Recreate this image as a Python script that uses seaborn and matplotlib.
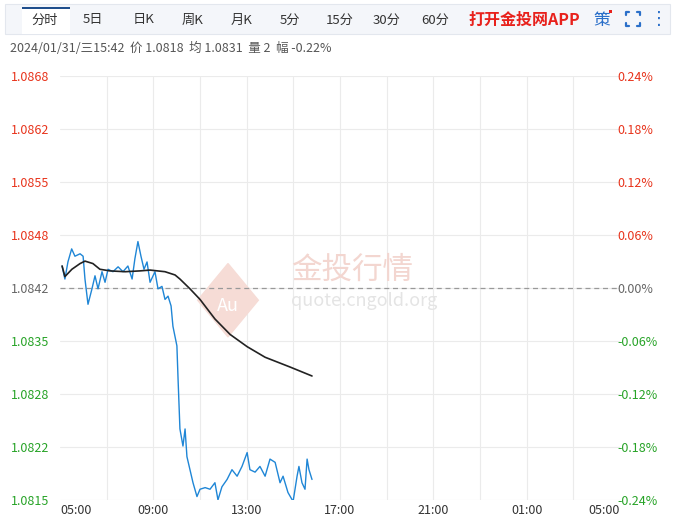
import numpy as np
import pandas as pd
import matplotlib
matplotlib.use("Agg")
import matplotlib.pyplot as plt
import seaborn as sns
from matplotlib.patches import Rectangle, Polygon
from matplotlib.lines import Line2D

# hours since 05:00
price_hours = [0.09, 0.21, 0.34, 0.50, 0.64, 0.86, 0.99, 1.07, 1.20, 1.37, 1.50, 1.63, 1.80, 1.93,
               2.06, 2.27, 2.49, 2.70, 2.91, 3.09, 3.21, 3.34, 3.47, 3.60, 3.73, 3.86, 4.07, 4.20,
               4.37, 4.50, 4.63, 4.76, 4.84, 5.01, 5.06, 5.14, 5.27, 5.36, 5.44, 5.57, 5.70, 5.87,
               6.00, 6.22, 6.43, 6.64, 6.77, 6.94, 7.16, 7.37, 7.59, 7.80, 8.02, 8.14, 8.36, 8.57,
               8.79, 9.00, 9.22, 9.43, 9.56, 9.77, 9.99, 10.16, 10.24, 10.37, 10.50, 10.59, 10.67, 10.80]
price = [1.08447, 1.08431, 1.08452, 1.08468, 1.08459, 1.08462, 1.08459, 1.08431, 1.08400, 1.08419,
         1.08435, 1.08419, 1.08440, 1.08427, 1.08443, 1.08440, 1.08446, 1.08440, 1.08447, 1.08431,
         1.08456, 1.08477, 1.08459, 1.08443, 1.08452, 1.08427, 1.08440, 1.08419, 1.08422, 1.08406,
         1.08410, 1.08398, 1.08373, 1.08349, 1.08308, 1.08247, 1.08226, 1.08247, 1.08213, 1.08197,
         1.08181, 1.08164, 1.08173, 1.08175, 1.08173, 1.08181, 1.08160, 1.08176, 1.08185, 1.08197,
         1.08189, 1.08201, 1.08218, 1.08197, 1.08194, 1.08201, 1.08189, 1.08210, 1.08206, 1.08181,
         1.08189, 1.08169, 1.08158, 1.08189, 1.08201, 1.08181, 1.08173, 1.08210, 1.08197, 1.08185]

avg_hours = [0.09, 0.21, 0.51, 0.86, 1.07, 1.41, 1.71, 2.14, 2.79, 3.43, 3.86, 4.50, 4.93, 5.14,
             5.57, 6.00, 6.64, 7.29, 8.02, 8.79, 9.86, 10.80]
avg_price = [1.08447, 1.08434, 1.08443, 1.08450, 1.08453, 1.08450, 1.08443, 1.08441, 1.08440,
             1.08441, 1.08442, 1.08440, 1.08436, 1.08431, 1.08419, 1.08406, 1.08382, 1.08363,
             1.08348, 1.08335, 1.08323, 1.08312]

base = 1.0842
pct_ticks = [0.24, 0.18, 0.12, 0.06, 0.0, -0.06, -0.12, -0.18, -0.24]
price_labels = ["1.0868", "1.0862", "1.0855", "1.0848", "1.0842", "1.0835", "1.0828", "1.0822", "1.0815"]
x_labels = ["05:00", "09:00", "13:00", "17:00", "21:00", "01:00", "05:00"]
tabs = ["分时", "5日", "日K", "周K", "月K", "5分", "15分", "30分", "60分"]

sns.set_theme(style="white")
plt.rcParams['font.family'] = ['Noto Sans CJK SC', 'DejaVu Sans']

fig = plt.figure(figsize=(6.75, 5.21), dpi=100)
W, H = 675, 521
ax = fig.add_axes([60 / W, 1 - 500 / H, 560 / W, 424 / H])

ylo, yhi = base * (1 - 0.0024), base * (1 + 0.0024)
ax.set_xlim(0, 24)
ax.set_ylim(ylo, yhi)
for h in range(2, 24, 2):
    ax.axvline(h, color="#ebebeb", lw=0.8, zorder=0)
yt = [base * (1 + p / 100) for p in pct_ticks]
for v in yt:
    ax.axhline(v, color="#ebebeb", lw=0.8, zorder=0)
ax.axhline(base, color="#999999", lw=0.9, ls=(0, (4, 3)), zorder=1)
for s in ax.spines.values():
    s.set_visible(False)

# watermark
ax.add_patch(Polygon([(7.2, 1.0845), (8.5, 1.08405), (7.2, 1.0836), (5.9, 1.08405)],
                     closed=True, color="#f6dcd6", zorder=0.5))
ax.text(7.2, 1.08398, "Au", color="white", fontsize=13, ha="center", va="center", zorder=0.6)
ax.text(9.9, 1.08442, "金投行情", color="#f3d6d0", fontsize=22, ha="left", va="center", zorder=0.5)
ax.text(9.9, 1.08404, "quote.cngold.org", color="#e4e4e4", fontsize=13, ha="left", va="center", zorder=0.5)

df_p = pd.DataFrame({"h": price_hours, "v": price})
df_a = pd.DataFrame({"h": avg_hours, "v": avg_price})
sns.lineplot(data=df_p, x="h", y="v", ax=ax, color="#1f86d6", lw=1.0)
sns.lineplot(data=df_a, x="h", y="v", ax=ax, color="#222222", lw=1.2)
ax.set_xlabel("")
ax.set_ylabel("")

ax.set_yticks(yt)
ax.set_yticklabels(price_labels, fontsize=9)
cols = ["#e8341c" if p > 0 else ("#666666" if p == 0 else "#27a327") for p in pct_ticks]
for lab, c in zip(ax.get_yticklabels(), cols):
    lab.set_color(c)
ax.tick_params(axis="y", length=0, pad=8)
ax2 = ax.twinx()
ax2.set_ylim(ylo, yhi)
ax2.set_yticks(yt)
ax2.set_yticklabels([f"{p:.2f}%" for p in pct_ticks], fontsize=9)
for lab, c in zip(ax2.get_yticklabels(), cols):
    lab.set_color(c)
ax2.tick_params(axis="y", length=0, pad=-2)
for s in ax2.spines.values():
    s.set_visible(False)
ax2.grid(False)

ax.set_xticks(range(0, 25, 4))
ax.set_xticklabels(x_labels, fontsize=9, color="#333333")
ax.get_xticklabels()[0].set_ha("left")
ax.get_xticklabels()[-1].set_ha("right")
ax.tick_params(axis="x", length=0, pad=3)

# top tab bar
fig.patches.append(Rectangle((5 / W, 1 - 34 / H), 665 / W, 30 / H, transform=fig.transFigure,
                             facecolor="#f4f6fa", edgecolor="#e3e7ee", lw=0.8))
fig.patches.append(Rectangle((22 / W, 1 - 34 / H), 48 / W, 27 / H, transform=fig.transFigure,
                             facecolor="white", edgecolor="none"))
fig.patches.append(Rectangle((22 / W, 1 - 9 / H), 48 / W, 2 / H, transform=fig.transFigure,
                             facecolor="#1f4e8c", edgecolor="none"))
tab_x = [45, 93, 144, 193, 242, 290, 340, 387, 435]
for t, x in zip(tabs, tab_x):
    fig.text(x / W, 1 - 20 / H, t, fontsize=9.5, color="#333333", ha="center", va="center")
fig.text(524 / W, 1 - 20 / H, "打开金投网APP", fontsize=11.5, color="#e8211c", ha="center",
         va="center", fontweight="bold")
fig.text(602 / W, 1 - 20 / H, "策", fontsize=12, color="#2a6fc9", ha="center", va="center")
fig.patches.append(Rectangle((609 / W, 1 - 13 / H), 3 / W, 3 / H, transform=fig.transFigure,
                             facecolor="#e8211c", edgecolor="none"))
# fullscreen icon corners
cx, cy, r, k = 633, 19, 7, 3
for sx in (-1, 1):
    for sy in (-1, 1):
        x0, y0 = cx + sx * r, cy + sy * r
        fig.lines.append(Line2D([(x0 - sx * k) / W, x0 / W, x0 / W],
                                [1 - y0 / H, 1 - y0 / H, 1 - (y0 - sy * k) / H],
                                transform=fig.transFigure, color="#2a6fc9", lw=1.6))
fig.text(659 / W, 1 - 19 / H, "⋮", fontsize=13, color="#2a6fc9", ha="center", va="center",
         family=["DejaVu Sans"])
fig.text(10 / W, 1 - 48 / H, "2024/01/31/三15:42  价 1.0818  均 1.0831  量 2  幅 -0.22%",
         fontsize=9, color="#555555", ha="left", va="center")

fig.savefig("out.png", dpi=100)
